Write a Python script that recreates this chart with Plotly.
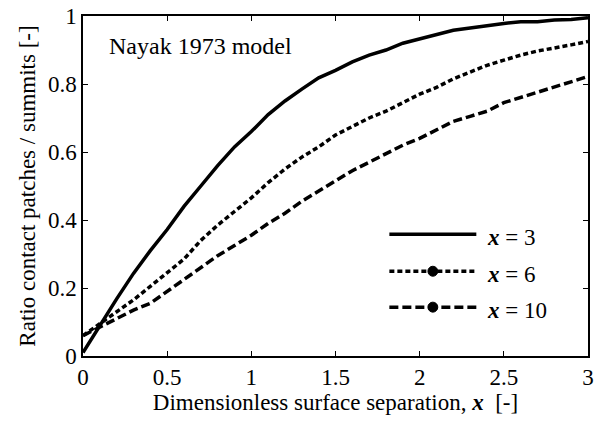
import plotly.graph_objects as go

# ---- data ----
sep = [0.0, 0.1, 0.2, 0.3, 0.4, 0.5, 0.6, 0.7, 0.8, 0.9, 1.0,
       1.1, 1.2, 1.3, 1.4, 1.5, 1.6, 1.7, 1.8, 1.9, 2.0,
       2.1, 2.2, 2.3, 2.4, 2.5, 2.6, 2.7, 2.8, 2.9, 3.0]
ratio_x3 = [0.01, 0.09, 0.168, 0.243, 0.31, 0.372, 0.44, 0.50, 0.56, 0.615, 0.66,
            0.71, 0.75, 0.785, 0.818, 0.84, 0.865, 0.885, 0.90, 0.92, 0.932,
            0.946, 0.958, 0.965, 0.972, 0.978, 0.983, 0.983, 0.988, 0.99, 0.995]
ratio_x6 = [0.06, 0.095, 0.13, 0.165, 0.205, 0.245, 0.285, 0.34, 0.385, 0.425, 0.465,
            0.51, 0.55, 0.585, 0.615, 0.65, 0.675, 0.70, 0.72, 0.745, 0.77,
            0.79, 0.815, 0.835, 0.855, 0.87, 0.885, 0.897, 0.905, 0.915, 0.925]
ratio_x10 = [0.06, 0.085, 0.11, 0.135, 0.155, 0.19, 0.225, 0.26, 0.295, 0.325, 0.355,
             0.39, 0.42, 0.455, 0.485, 0.515, 0.545, 0.57, 0.595, 0.62, 0.64,
             0.665, 0.69, 0.705, 0.72, 0.745, 0.76, 0.775, 0.79, 0.805, 0.822]
series_labels = ["3", "6", "10"]
x_ticks = [0, 0.5, 1, 1.5, 2, 2.5, 3]
y_ticks = [0, 0.2, 0.4, 0.6, 0.8, 1]

FONT = "Liberation Serif, Times New Roman, serif"
FS = 23
dashes = ["solid", "5px,3px", "9px,4px"]

fig = go.Figure()
for ys, d in zip([ratio_x3, ratio_x6, ratio_x10], dashes):
    fig.add_trace(go.Scatter(x=sep, y=ys, mode="lines",
                             line=dict(color="black", width=3.5, dash=d),
                             showlegend=False))

W, H = 598, 426
L, R, T, B = 83, 4, 15, 70
pw, ph = W - L - R, H - T - B

def px(xp):
    return (xp - L) / pw

def py(yp):
    return (H - B - yp) / ph

shapes = []
annotations = []
leg_y = [234, 271, 307]
for i, (lab, d) in enumerate(zip(series_labels, dashes)):
    shapes.append(dict(type="line", xref="paper", yref="paper",
                       x0=px(393), x1=px(481), y0=py(leg_y[i]), y1=py(leg_y[i]),
                       line=dict(color="black", width=3.5, dash=d)))
    if i > 0:
        r = 5
        shapes.append(dict(type="circle", xref="paper", yref="paper",
                           x0=px(437 - r), x1=px(437 + r),
                           y0=py(leg_y[i] + r), y1=py(leg_y[i] - r),
                           fillcolor="black", line=dict(color="black", width=1)))
    annotations.append(dict(xref="paper", yref="paper", x=px(490), y=py(leg_y[i] + 3),
                            xanchor="left", yanchor="middle", showarrow=False,
                            text=f"<b><i>x</i></b> = {lab}",
                            font=dict(family=FONT, size=FS, color="black")))

annotations.append(dict(xref="paper", yref="paper", x=px(107), y=py(45),
                        xanchor="left", yanchor="middle", showarrow=False,
                        text="Nayak 1973 model",
                        font=dict(family=FONT, size=24, color="black")))

fig.update_layout(
    width=W, height=H,
    margin=dict(l=L, r=R, t=T, b=B),
    paper_bgcolor="white", plot_bgcolor="white",
    font=dict(family=FONT, size=FS, color="black"),
    shapes=shapes, annotations=annotations,
    xaxis=dict(range=[0, 3], tickvals=x_ticks, ticks="inside", ticklen=5,
               tickcolor="black", showline=True, linecolor="black", linewidth=1.5,
               mirror="ticks", showgrid=False, zeroline=False,
               tickfont=dict(size=FS),
               title=dict(text="Dimensionless surface separation, <b><i>x</i></b>  [-]",
                          standoff=4, font=dict(size=FS))),
    yaxis=dict(range=[0, 1], tickvals=y_ticks,
               ticktext=["0", "0.2", "0.4", "0.6", "0.8", "1"],
               ticks="inside", ticklen=5,
               tickcolor="black", showline=True, linecolor="black", linewidth=1.5,
               mirror="ticks", showgrid=False, zeroline=False,
               tickfont=dict(size=FS),
               title=dict(text="Ratio contact patches / summits [-]",
                          standoff=6, font=dict(size=FS))),
)

fig.write_html("out.html")
